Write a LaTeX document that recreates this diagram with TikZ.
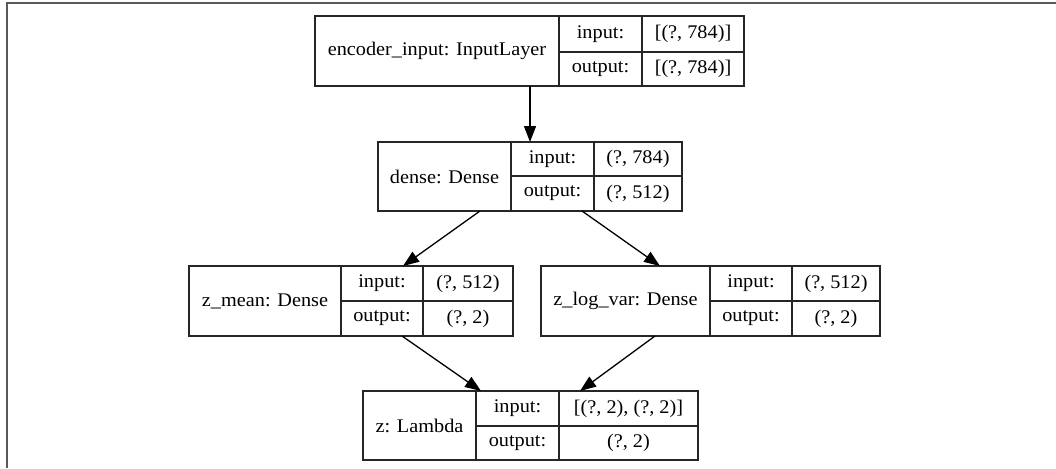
\documentclass[tikz,border=0pt]{standalone}
\usepackage{fontspec}
\setmainfont{Liberation Serif}[FakeStretch=1.05]
\usetikzlibrary{arrows.meta}
\tikzset{
  cell/.style={draw=black!85, line width=1.3pt, inner sep=0pt, outer sep=0pt,
    font=\fontsize{19.3}{22}\selectfont, text=black},
  edge/.style={draw=black, line width=1.3pt, -{Triangle[length=16pt,width=12pt]}},
  frame/.style={draw=black!65, line width=2.2pt}
}
\newcommand\cellnode[6]{%
  \node[cell, minimum width={(#4-#2)*1pt}, minimum height={(#5-#3)*1pt}]
    (#1) at ({(#2+#4)/2},{(#3+#5)/2}) {#6};}
\begin{document}
\begin{tikzpicture}[x=1pt,y=-1pt]
\useasboundingbox (0,0) rectangle (1056,468);
% frame
\draw[frame] (7,468) -- (7,3) -- (1056,3);
% encoder_input
\cellnode{encL}{315}{16}{559}{86}{encoder\_input: InputLayer}
\cellnode{encI}{559}{16}{642}{52}{input:}
\cellnode{encIv}{642}{16}{744}{52}{[(?, 784)]}
\cellnode{encO}{559}{52}{642}{86}{output:}
\cellnode{encOv}{642}{52}{744}{86}{[(?, 784)]}
% dense
\cellnode{denL}{378}{142}{511}{211}{dense: Dense}
\cellnode{denI}{511}{142}{594}{176}{input:}
\cellnode{denIv}{594}{142}{682}{176}{(?, 784)}
\cellnode{denO}{511}{176}{594}{211}{output:}
\cellnode{denOv}{594}{176}{682}{211}{(?, 512)}
% z_mean
\cellnode{zmL}{189}{266}{341}{336}{z\_mean: Dense}
\cellnode{zmI}{341}{266}{423}{301}{input:}
\cellnode{zmIv}{423}{266}{513}{301}{(?, 512)}
\cellnode{zmO}{341}{301}{423}{336}{output:}
\cellnode{zmOv}{423}{301}{513}{336}{(?, 2)}
% z_log_var
\cellnode{zlL}{541}{266}{710}{336}{z\_log\_var: Dense}
\cellnode{zlI}{710}{266}{792}{301}{input:}
\cellnode{zlIv}{792}{266}{880}{301}{(?, 512)}
\cellnode{zlO}{710}{301}{792}{336}{output:}
\cellnode{zlOv}{792}{301}{880}{336}{(?, 2)}
% z
\cellnode{zL}{363}{391}{476}{460}{z: Lambda}
\cellnode{zI}{476}{391}{559}{426}{input:}
\cellnode{zIv}{559}{391}{698}{426}{[(?, 2), (?, 2)]}
\cellnode{zO}{476}{426}{559}{460}{output:}
\cellnode{zOv}{559}{426}{698}{460}{(?, 2)}
% edges
\draw[edge] ([xshift=215pt]encL.south west) -- ([xshift=19pt]denI.north west);
\draw[edge] ([xshift=102pt]denL.south west) -- ([xshift=62pt]zmI.north west);
\draw[edge] ([xshift=71pt]denO.south west) -- ([xshift=119pt]zlL.north west);
\draw[edge] ([xshift=61pt]zmO.south west) -- ([xshift=5pt]zI.north west);
\draw[edge] ([xshift=114pt]zlL.south west) -- ([xshift=21pt]zIv.north west);
\end{tikzpicture}
\end{document}
